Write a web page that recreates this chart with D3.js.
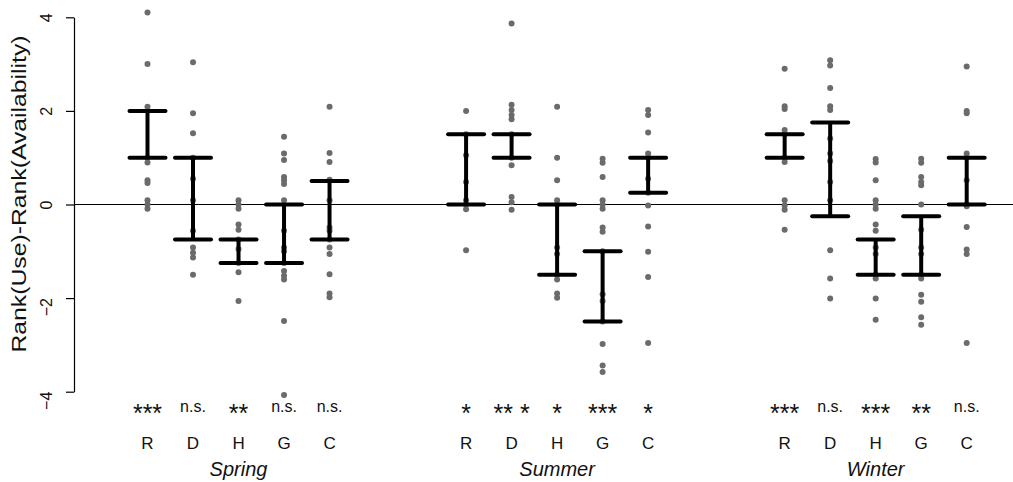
<!DOCTYPE html>
<html>
<head>
<meta charset="utf-8">
<title>Rank differences</title>
<script src="https://d3js.org/d3.v7.min.js"></script>
<style>
  body { margin: 0; background: #fff; }
  text { font-family: "Liberation Sans", Arial, sans-serif; fill: #111; }
</style>
</head>
<body>
<div id="chart"></div>
<script>
const seasons = ["Spring", "Summer", "Winter"];
const categories = ["R", "D", "H", "G", "C"];
const yTicks = [-4, -2, 0, 2, 4];

// significance labels, one per category, per season
const sigSpring = ["***", "n.s.", "**", "n.s.", "n.s."];
const sigSummer = ["*", "** *", "*", "***", "*"];
const sigWinter = ["***", "n.s.", "***", "**", "n.s."];

// error bar ends (upper, lower), order: Spring R..C, Summer R..C, Winter R..C
const barHigh = [2, 1, -0.75, 0, 0.5, 1.5, 1.5, 0, -1, 1, 1.5, 1.75, -0.75, -0.25, 1];
const barLow = [1, -0.75, -1.25, -1.25, -0.75, 0, 1, -1.5, -2.5, 0.25, 1, -0.25, -1.5, -1.5, 0];

// individual points
const springR = [4.1, 3.0, 2.09, 1.0, 0.9, 0.52, 0.46, 0.09, 0, -0.09];
const springD = [3.04, 1.95, 1.52, 1.0, 0.55, 0.09, -0.56, -0.92, -1.03, -1.13, -1.5];
const springH = [0.09, 0, -0.09, -0.43, -0.54, -0.75, -0.95, -1.25, -1.45, -2.06];
const springG = [1.45, 1.09, 0.95, 0.59, 0.52, 0.44, 0.09, -0.56, -0.92, -1.0, -1.25, -1.42, -1.52, -1.6, -2.49, -4.07];
const springC = [2.09, 1.1, 0.91, 0.53, 0.09, -0.49, -0.56, -0.75, -0.92, -1.06, -1.49, -1.9, -1.98];
const summerR = [2.0, 1.5, 1.05, 0.48, 0.09, 0, -0.1, -0.98];
const summerD = [3.87, 2.13, 2.02, 1.91, 1.82, 1.5, 1.0, 0.84, 0.16, 0.05, -0.11];
const summerH = [2.09, 1.0, 0.52, 0.09, 0, -0.92, -1.06, -1.5, -1.6, -1.9, -1.99];
const summerG = [0.98, 0.89, 0.59, 0.09, 0, -0.09, -0.49, -0.58, -1.0, -1.92, -2.06, -2.5, -2.98, -3.44, -3.58];
const summerC = [2.02, 1.91, 1.54, 1.09, 1.0, 0.55, 0.25, -0.02, -0.47, -1.01, -1.55, -2.96];
const winterR = [2.9, 2.1, 2.04, 1.59, 1.5, 1.0, 0.91, 0.09, -0.02, -0.11, -0.54];
const winterD = [3.08, 2.97, 2.49, 2.1, 2.02, 1.41, 1.09, 0.93, 0.48, 0.09, -0.98, -1.58, -2.01];
const winterH = [0.97, 0.9, 0.52, 0.09, 0, -0.09, -0.43, -0.56, -0.92, -1.06, -1.5, -1.58, -2.01, -2.46];
const winterG = [0.98, 0.89, 0.59, 0.48, 0.41, 0, -0.54, -0.92, -1.06, -1.5, -1.58, -1.93, -2.08, -2.41, -2.57];
const winterC = [2.95, 2.0, 1.95, 1.09, 1.0, 0.52, 0, -0.04, -0.48, -0.96, -1.06, -2.96];

const points = [springR, springD, springH, springG, springC,
                summerR, summerD, summerH, summerG, summerC,
                winterR, winterD, winterH, winterG, winterC];
const sigs = [sigSpring, sigSummer, sigWinter];

const width = 1013, height = 482;

const svg = d3.select("#chart").append("svg")
    .attr("width", width)
    .attr("height", height);

// position index: season s, category c -> s*7 + c + 1
const x = d3.scaleLinear().domain([1, 19]).range([147.5, 966.7]);
const y = d3.scaleLinear().domain([-4, 4]).range([391.7, 17.3]);
const pos = i => Math.floor(i / 5) * 7 + (i % 5) + 1;

// zero line
svg.append("line")
    .attr("x1", 74).attr("x2", width)
    .attr("y1", y(0)).attr("y2", y(0))
    .attr("stroke", "#000").attr("stroke-width", 1.2);

// y axis
const yAxis = svg.append("g")
    .attr("transform", "translate(74,0)")
    .call(d3.axisLeft(y).tickValues(yTicks).tickSize(8).tickSizeOuter(0).tickFormat(d3.format("d")));
yAxis.select(".domain").attr("stroke", "#000").attr("stroke-width", 1.2);
yAxis.selectAll(".tick line").attr("stroke", "#000").attr("stroke-width", 1.2);
// negative labels hang below the tick (digit at the tick, minus below it)
yAxis.selectAll(".tick text")
    .attr("x", null).attr("dy", null)
    .attr("transform", d => d < 0 ? "translate(-26,-0.5) rotate(-90)" : "translate(-26,0) rotate(-90)")
    .attr("text-anchor", d => d < 0 ? "end" : "middle")
    .attr("dominant-baseline", "middle")
    .style("font-family", "'Liberation Sans', Arial, sans-serif")
    .style("font-size", "16px")
    .attr("fill", "#111")
    .text(d => d < 0 ? "\u2212" + Math.abs(d) : d);

svg.append("text")
    .attr("transform", `translate(21,194) rotate(-90)`)
    .attr("text-anchor", "middle")
    .attr("dominant-baseline", "middle")
    .attr("textLength", 317)
    .attr("lengthAdjust", "spacingAndGlyphs")
    .style("font-size", "20px")
    .text("Rank(Use)-Rank(Availability)");

// points
points.forEach((vals, i) => {
    svg.append("g").selectAll("circle")
        .data(vals)
        .enter().append("circle")
        .attr("cx", x(pos(i)))
        .attr("cy", d => y(d))
        .attr("r", 3)
        .attr("fill", "#6b6b6b");
});

// error bars
const bars = svg.append("g").selectAll("g")
    .data(barHigh.map((h, i) => ({ i: i, hi: h, lo: barLow[i] })))
    .enter().append("g")
    .attr("stroke", "#000")
    .attr("stroke-width", 4);
bars.append("line")
    .attr("x1", d => x(pos(d.i))).attr("x2", d => x(pos(d.i)))
    .attr("y1", d => y(d.hi)).attr("y2", d => y(d.lo));
bars.append("line")
    .attr("x1", d => x(pos(d.i)) - 18).attr("x2", d => x(pos(d.i)) + 18)
    .attr("y1", d => y(d.hi)).attr("y2", d => y(d.hi))
    .attr("stroke-linecap", "round");
bars.append("line")
    .attr("x1", d => x(pos(d.i)) - 18).attr("x2", d => x(pos(d.i)) + 18)
    .attr("y1", d => y(d.lo)).attr("y2", d => y(d.lo))
    .attr("stroke-linecap", "round");

// labels under each group
seasons.forEach((s, si) => {
    categories.forEach((c, ci) => {
        const px = x(si * 7 + ci + 1);
        const lab = sigs[si][ci];
        const isStar = lab.charAt(0) === "*";
        svg.append("text")
            .attr("x", px).attr("y", isStar ? 422 : 412)
            .attr("text-anchor", "middle")
            .style("font-size", isStar ? "25px" : "16px")
            .text(lab);
        svg.append("text")
            .attr("x", px).attr("y", 449)
            .attr("text-anchor", "middle")
            .style("font-size", "17px")
            .text(c);
    });
    svg.append("text")
        .attr("x", x(si * 7 + 3)).attr("y", 476)
        .attr("text-anchor", "middle")
        .style("font-size", "20px")
        .style("font-style", "italic")
        .text(s);
});
</script>
</body>
</html>
